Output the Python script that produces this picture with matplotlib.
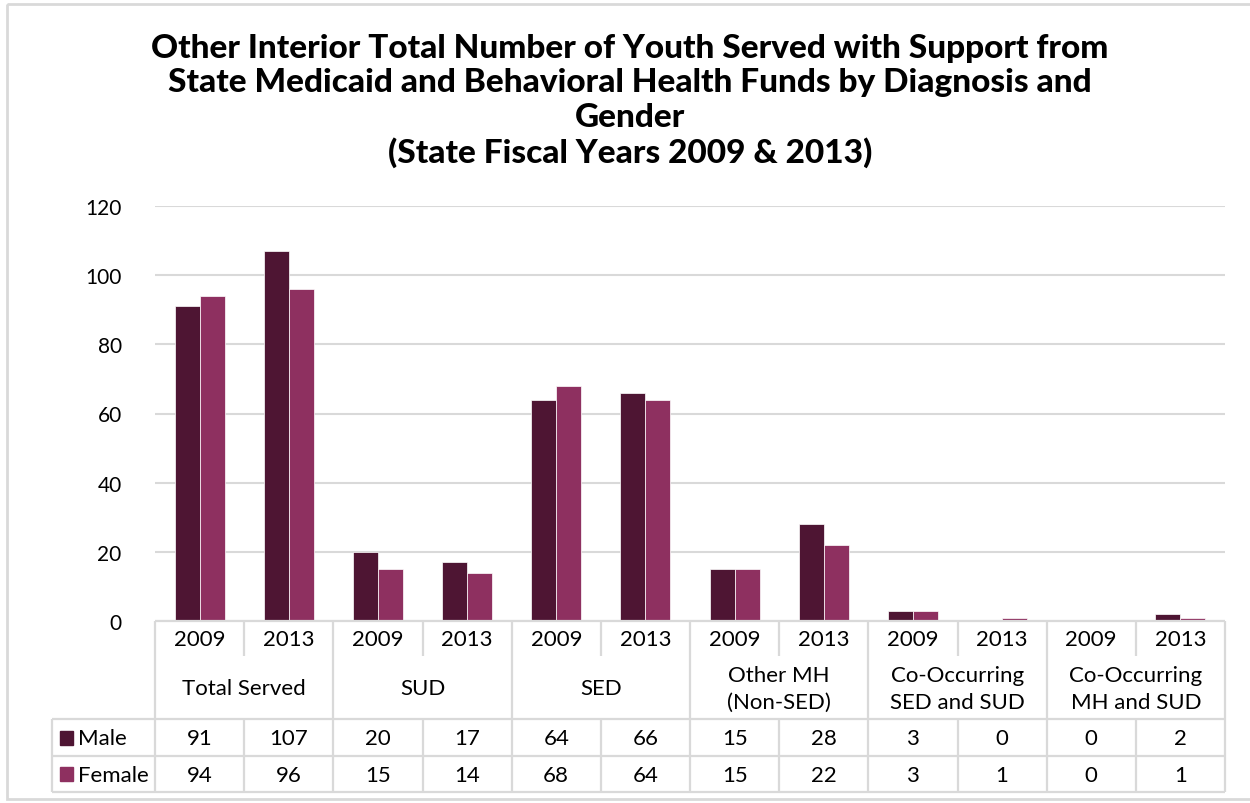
import matplotlib
matplotlib.use("Agg")
import matplotlib.pyplot as plt
from matplotlib.patches import Rectangle
import numpy as np

plt.rcParams['font.family'] = ['Lato', 'DejaVu Sans']

groups = ['Total Served', 'SUD', 'SED', 'Other MH\n(Non-SED)',
          'Co-Occurring\nSED and SUD', 'Co-Occurring\nMH and SUD']
years = ['2009', '2013']
male = [91, 107, 20, 17, 64, 66, 15, 28, 3, 0, 0, 2]
female = [94, 96, 15, 14, 68, 64, 15, 22, 3, 1, 0, 1]
yticks = [0, 20, 40, 60, 80, 100, 120]

title = ('Other Interior Total Number of Youth Served with Support from\n'
         'State Medicaid and Behavioral Health Funds by Diagnosis and\n'
         'Gender\n(State Fiscal Years 2009 & 2013)')

c_male = '#4E1533'
c_female = '#8E3060'
grid_c = '#D9D9D9'

W, H = 1250, 804
fig = plt.figure(figsize=(W / 100, H / 100), dpi=100)

# plot area in pixels
left, right, top, bottom = 155, 1225, 207, 622
ax = fig.add_axes([left / W, 1 - bottom / H, (right - left) / W, (bottom - top) / H])

n = len(male)
x = np.arange(n)
bw = 0.28
ax.bar(x - bw / 2, male, bw, color=c_male, edgecolor='white', linewidth=0.5, zorder=3)
ax.bar(x + bw / 2, female, bw, color=c_female, edgecolor='white', linewidth=0.5, zorder=3)
ax.set_xlim(-0.5, n - 0.5)
ax.set_ylim(0, 120)
ax.set_yticks(yticks)
ax.set_yticklabels([str(t) for t in yticks], fontsize=15)
ax.tick_params(axis='y', length=0, pad=24)
ax.set_xticks([])
ax.yaxis.grid(True, color=grid_c, linewidth=1.5, zorder=0)
for s in ax.spines.values():
    s.set_visible(False)

# overlay in pixel coordinates for table and title
ov = fig.add_axes([0, 0, 1, 1], zorder=5)
ov.set_xlim(0, W)
ov.set_ylim(H, 0)
ov.axis('off')
ov.patch.set_alpha(0)

ov.add_patch(Rectangle((7, 5), W, 795, fill=False, edgecolor=grid_c, linewidth=2))

ov.text(630, 101, title, ha='center', va='center', fontsize=24, fontweight='black',
        linespacing=1.22)

colw = (right - left) / n
y_year_bot = 657
y_male = 720
y_female = 757
y_end = 793
leg_left = 52
lw = 1.6
fs = 16

def hline(y, x0, x1):
    ov.plot([x0, x1], [y, y], color=grid_c, linewidth=lw, solid_capstyle='butt')

def vline(x0, y0, y1):
    ov.plot([x0, x0], [y0, y1], color=grid_c, linewidth=lw, solid_capstyle='butt')

hline(bottom, left, right)
hline(y_male, leg_left, right)
hline(y_female, leg_left, right)
hline(y_end, leg_left, right)
vline(leg_left, y_male, y_end)
for i in range(n + 1):
    xe = left + i * colw
    if i % 2 == 0:
        vline(xe, bottom, y_end)
    else:
        vline(xe, bottom, y_year_bot)
        vline(xe, y_male, y_end)

for i in range(n):
    cx = left + (i + 0.5) * colw
    ov.text(cx, (bottom + y_year_bot) / 2 + 1, years[i % 2], ha='center', va='center', fontsize=fs)
    ov.text(cx, (y_male + y_female) / 2 + 1, str(male[i]), ha='center', va='center', fontsize=fs)
    ov.text(cx, (y_female + y_end) / 2 + 1, str(female[i]), ha='center', va='center', fontsize=fs)

for g, name in enumerate(groups):
    cx = left + (2 * g + 1) * colw
    ov.text(cx, (y_year_bot + y_male) / 2 + 1, name, ha='center', va='center', fontsize=fs,
            linespacing=1.4)

for yy, lab, col in [((y_male + y_female) / 2, 'Male', c_male),
                     ((y_female + y_end) / 2, 'Female', c_female)]:
    ov.add_patch(Rectangle((60, yy - 7), 13, 14, color=col))
    ov.text(78, yy + 1, lab, ha='left', va='center', fontsize=fs)

fig.savefig('out.png', dpi=100)
